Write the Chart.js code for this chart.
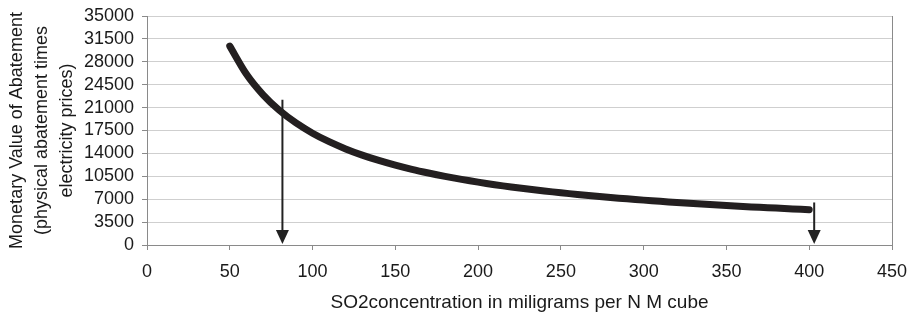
<!DOCTYPE html>
<html>
<head>
<meta charset="utf-8">
<script src="https://cdn.jsdelivr.net/npm/chart.js@4/dist/chart.umd.min.js"></script>
<style>
  html, body { margin: 0; padding: 0; background: #fff; }
  #wrap { width: 912px; height: 316px; }
</style>
</head>
<body>
<div id="wrap"><canvas id="abatement" width="912" height="316"></canvas></div>
<script>
// SO2 concentration (mg per N m3) and monetary value of abatement
var concentration = [50, 60, 70, 80, 90, 100, 110, 120, 130, 140, 150, 160, 170, 180, 190, 200,
    210, 220, 230, 240, 250, 260, 270, 280, 290, 300, 310, 320, 330, 340, 350, 360, 370, 380, 390, 400];
var abatementValue = [30400, 26130, 22990, 20570, 18650, 17090, 15790, 14690, 13740, 12920, 12200,
    11560, 11000, 10490, 10030, 9610, 9220, 8870, 8550, 8260, 7980, 7730, 7490, 7260, 7060, 6860,
    6680, 6500, 6330, 6180, 6030, 5890, 5760, 5640, 5510, 5400];

// the two downward arrows
var arrowX = [81.8, 403];
var arrowTop = [22200, 6500];

var xTicks = [0, 50, 100, 150, 200, 250, 300, 350, 400, 450];
var yTicks = [0, 3500, 7000, 10500, 14000, 17500, 21000, 24500, 28000, 31500, 35000];

var points = concentration.map(function (c, i) {
    return { x: c, y: abatementValue[i] };
});

var arrowPlugin = {
    id: 'arrows',
    afterDatasetsDraw: function (chart) {
        var ctx = chart.ctx;
        var xs = chart.scales.x, ys = chart.scales.y;
        ctx.save();
        ctx.strokeStyle = '#222';
        ctx.fillStyle = '#222';
        ctx.lineWidth = 2;
        for (var i = 0; i < arrowX.length; i++) {
            var px = xs.getPixelForValue(arrowX[i]);
            var top = ys.getPixelForValue(arrowTop[i]);
            var tip = ys.getPixelForValue(0) - 1;
            ctx.beginPath();
            ctx.moveTo(px, top);
            ctx.lineTo(px, tip - 10);
            ctx.stroke();
            ctx.beginPath();
            ctx.moveTo(px - 6.5, tip - 14);
            ctx.lineTo(px + 6.5, tip - 14);
            ctx.lineTo(px, tip);
            ctx.closePath();
            ctx.fill();
        }
        ctx.restore();
    }
};

var font = '"Liberation Sans", Arial, sans-serif';
var canvas = document.getElementById('abatement');
var ctx = canvas.getContext('2d');

var myChart = new Chart(ctx, {
    type: 'line',
    data: {
        datasets: [{
            data: points,
            borderColor: '#231f20',
            borderWidth: 7,
            borderCapStyle: 'round',
            borderJoinStyle: 'round',
            pointRadius: 0,
            tension: 0.3,
            fill: false
        }]
    },
    options: {
        responsive: false,
        animation: false,
        layout: { padding: { top: 0, right: 0, left: 5, bottom: 2 } },
        plugins: {
            legend: { display: false },
            tooltip: { enabled: false }
        },
        scales: {
            x: {
                type: 'linear',
                min: 0,
                max: 450,
                afterBuildTicks: function (axis) {
                    axis.ticks = xTicks.map(function (v) { return { value: v }; });
                },
                afterFit: function (axis) {
                    axis.height = 69;
                    axis.paddingRight = 20;
                },
                grid: {
                    color: function (c) { return c.tick && c.tick.value === 450 ? '#8a8a8a' : 'rgba(0,0,0,0)'; },
                    tickColor: '#8a8a8a',
                    tickLength: 5,
                    lineWidth: 1
                },
                border: { color: '#8a8a8a', width: 1 },
                ticks: {
                    color: '#1a1a1a',
                    font: { family: font, size: 18 },
                    padding: 11,
                    maxRotation: 0,
                    autoSkip: false,
                    callback: function (v) { return String(v); }
                },
                title: {
                    display: true,
                    text: 'SO2concentration in miligrams per N M cube',
                    color: '#1a1a1a',
                    font: { family: font, size: 19 },
                    padding: { top: 0, bottom: 0 }
                }
            },
            y: {
                min: 0,
                max: 35000,
                afterBuildTicks: function (axis) {
                    axis.ticks = yTicks.map(function (v) { return { value: v }; });
                },
                afterFit: function (axis) {
                    axis.width = 142;
                    axis.paddingTop = 16;
                },
                grid: {
                    color: '#cfcfcf',
                    tickColor: '#8a8a8a',
                    tickLength: 5,
                    lineWidth: 1
                },
                border: { color: '#8a8a8a', width: 1 },
                ticks: {
                    color: '#1a1a1a',
                    font: { family: font, size: 18 },
                    padding: 8,
                    autoSkip: false,
                    callback: function (v) { return String(v); }
                },
                title: {
                    display: true,
                    text: ['Monetary Value of Abatement', '(physical abatement times', 'electricity prices)'],
                    color: '#1a1a1a',
                    font: { family: font, size: 18, lineHeight: 1.37 },
                    padding: { top: 0, bottom: 0 }
                }
            }
        }
    },
    plugins: [arrowPlugin]
});
</script>
</body>
</html>
